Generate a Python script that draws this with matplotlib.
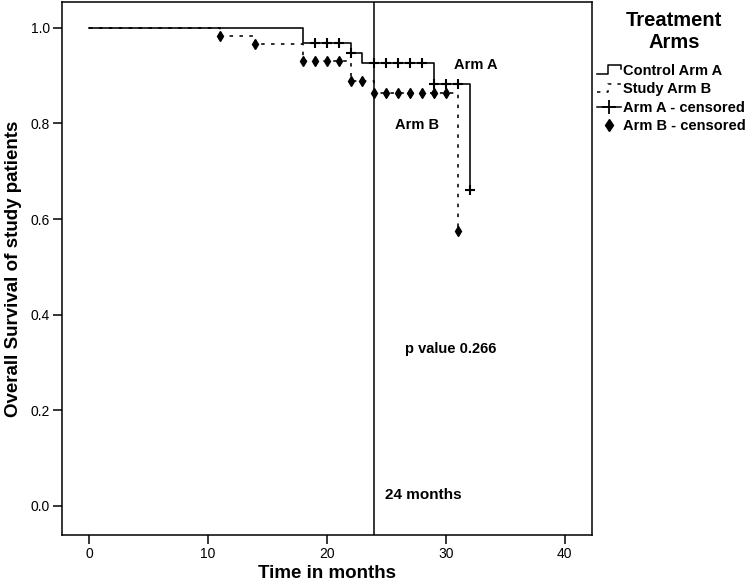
import matplotlib
matplotlib.use("Agg")
import matplotlib.pyplot as plt
from matplotlib.lines import Line2D
from matplotlib.legend_handler import HandlerBase

plt.rcParams['font.family'] = ['Liberation Sans', 'DejaVu Sans']

# Kaplan-Meier steps
arm_a_time = [0, 18, 22, 23, 29, 32]
arm_a_surv = [1.0, 0.968, 0.948, 0.927, 0.883, 0.661]
arm_a_cens_time = [19, 20, 21, 22, 24, 25, 26, 27, 28, 29, 30, 31, 32]
arm_a_cens_surv = [0.968, 0.968, 0.968, 0.948, 0.927, 0.927, 0.927, 0.927, 0.927,
                   0.883, 0.883, 0.883, 0.661]

arm_b_time = [0, 11, 14, 18, 22, 24, 31]
arm_b_surv = [1.0, 0.983, 0.967, 0.931, 0.889, 0.864, 0.575]
arm_b_cens_time = [11, 14, 18, 19, 20, 21, 22, 23, 24, 25, 26, 27, 28, 29, 30, 31]
arm_b_cens_surv = [0.983, 0.967, 0.931, 0.931, 0.931, 0.931, 0.889, 0.889,
                   0.864, 0.864, 0.864, 0.864, 0.864, 0.864, 0.864, 0.575]

x_ticks = [0, 10, 20, 30, 40]
y_ticks = [0.0, 0.2, 0.4, 0.6, 0.8, 1.0]
cutoff = 24

B_DASH = (0, (2.2, 4.0))


class StepHandler(HandlerBase):
    def __init__(self, ls):
        super().__init__()
        self.ls = ls

    def create_artists(self, legend, orig_handle, xdescent, ydescent,
                       width, height, fontsize, trans):
        x0 = -xdescent
        y0 = -ydescent
        x = [x0, x0 + 0.45 * width, x0 + 0.45 * width, x0 + width, x0 + width]
        y = [y0 + 0.1 * height, y0 + 0.1 * height, y0 + 0.95 * height,
             y0 + 0.95 * height, y0 + 0.55 * height]
        ln = Line2D(x, y, color='black', lw=1.1, linestyle=self.ls,
                    transform=trans)
        return [ln]


fig = plt.figure(figsize=(7.5, 5.84), dpi=100)
ax = fig.add_axes([62 / 750, 1 - 535 / 584, 530 / 750, 533 / 584])

ax.step(arm_a_time, arm_a_surv, where='post', color='black', lw=1.15)
ax.step(arm_b_time, arm_b_surv, where='post', color='black', lw=1.15,
        linestyle=B_DASH)
ax.plot(arm_a_cens_time, arm_a_cens_surv, linestyle='none', marker='+',
        color='black', markersize=6.5, markeredgewidth=1.5)
ax.plot(arm_b_cens_time, arm_b_cens_surv, linestyle='none', marker='d',
        color='black', markersize=5.5)

ax.axvline(cutoff, color='black', lw=1.1)

ax.text(32.5, 0.923, 'Arm A', fontsize=10.5, fontweight='bold',
        ha='center', va='center')
ax.text(27.6, 0.797, 'Arm B', fontsize=10.5, fontweight='bold',
        ha='center', va='center')
ax.text(30.4, 0.328, 'p value 0.266', fontsize=10.5, fontweight='bold',
        ha='center', va='center')
ax.text(28.1, 0.023, '24 months', fontsize=11, fontweight='bold',
        ha='center', va='center')

ax.set_xlim(-2.27, 42.3)
ax.set_ylim(-0.061, 1.054)
ax.set_xticks(x_ticks)
ax.set_yticks(y_ticks)
ax.set_yticklabels([f'{v:.1f}' for v in y_ticks])
ax.tick_params(direction='out', length=6.5, width=1.1, labelsize=10, pad=2)
for s in ax.spines.values():
    s.set_linewidth(1.1)

ax.set_xlabel('Time in months', fontsize=13.5, fontweight='bold', labelpad=3)
ax.set_ylabel('Overall Survival of study patients', fontsize=13.5,
              fontweight='bold', labelpad=6)

# legend title drawn on its own, entries below
fig.text(674 / 750, 1 - 31.5 / 584, 'Treatment\nArms', fontsize=14.5,
         fontweight='bold', ha='center', va='center', multialignment='center',
         linespacing=1.18)

h_a = Line2D([], [], color='black')
h_b = Line2D([], [], color='black', linestyle=B_DASH)
h_ac = Line2D([], [], color='black', marker='+', markersize=10,
              markeredgewidth=1.3, lw=1.1)
h_bc = Line2D([], [], color='black', marker='d', markersize=6, linestyle='none')
fig.legend([h_a, h_b, h_ac, h_bc],
           ['Control Arm A', 'Study Arm B', 'Arm A - censored',
            'Arm B - censored'],
           loc='upper left', bbox_to_anchor=(597 / 750, 1 - 64 / 584),
           frameon=False, handlelength=1.65, handletextpad=0.15,
           labelspacing=0.3, borderaxespad=0, borderpad=0,
           prop={'size': 10.5, 'weight': 'bold'},
           handler_map={h_a: StepHandler('-'), h_b: StepHandler(B_DASH)})

fig.savefig('out.png', dpi=100)
